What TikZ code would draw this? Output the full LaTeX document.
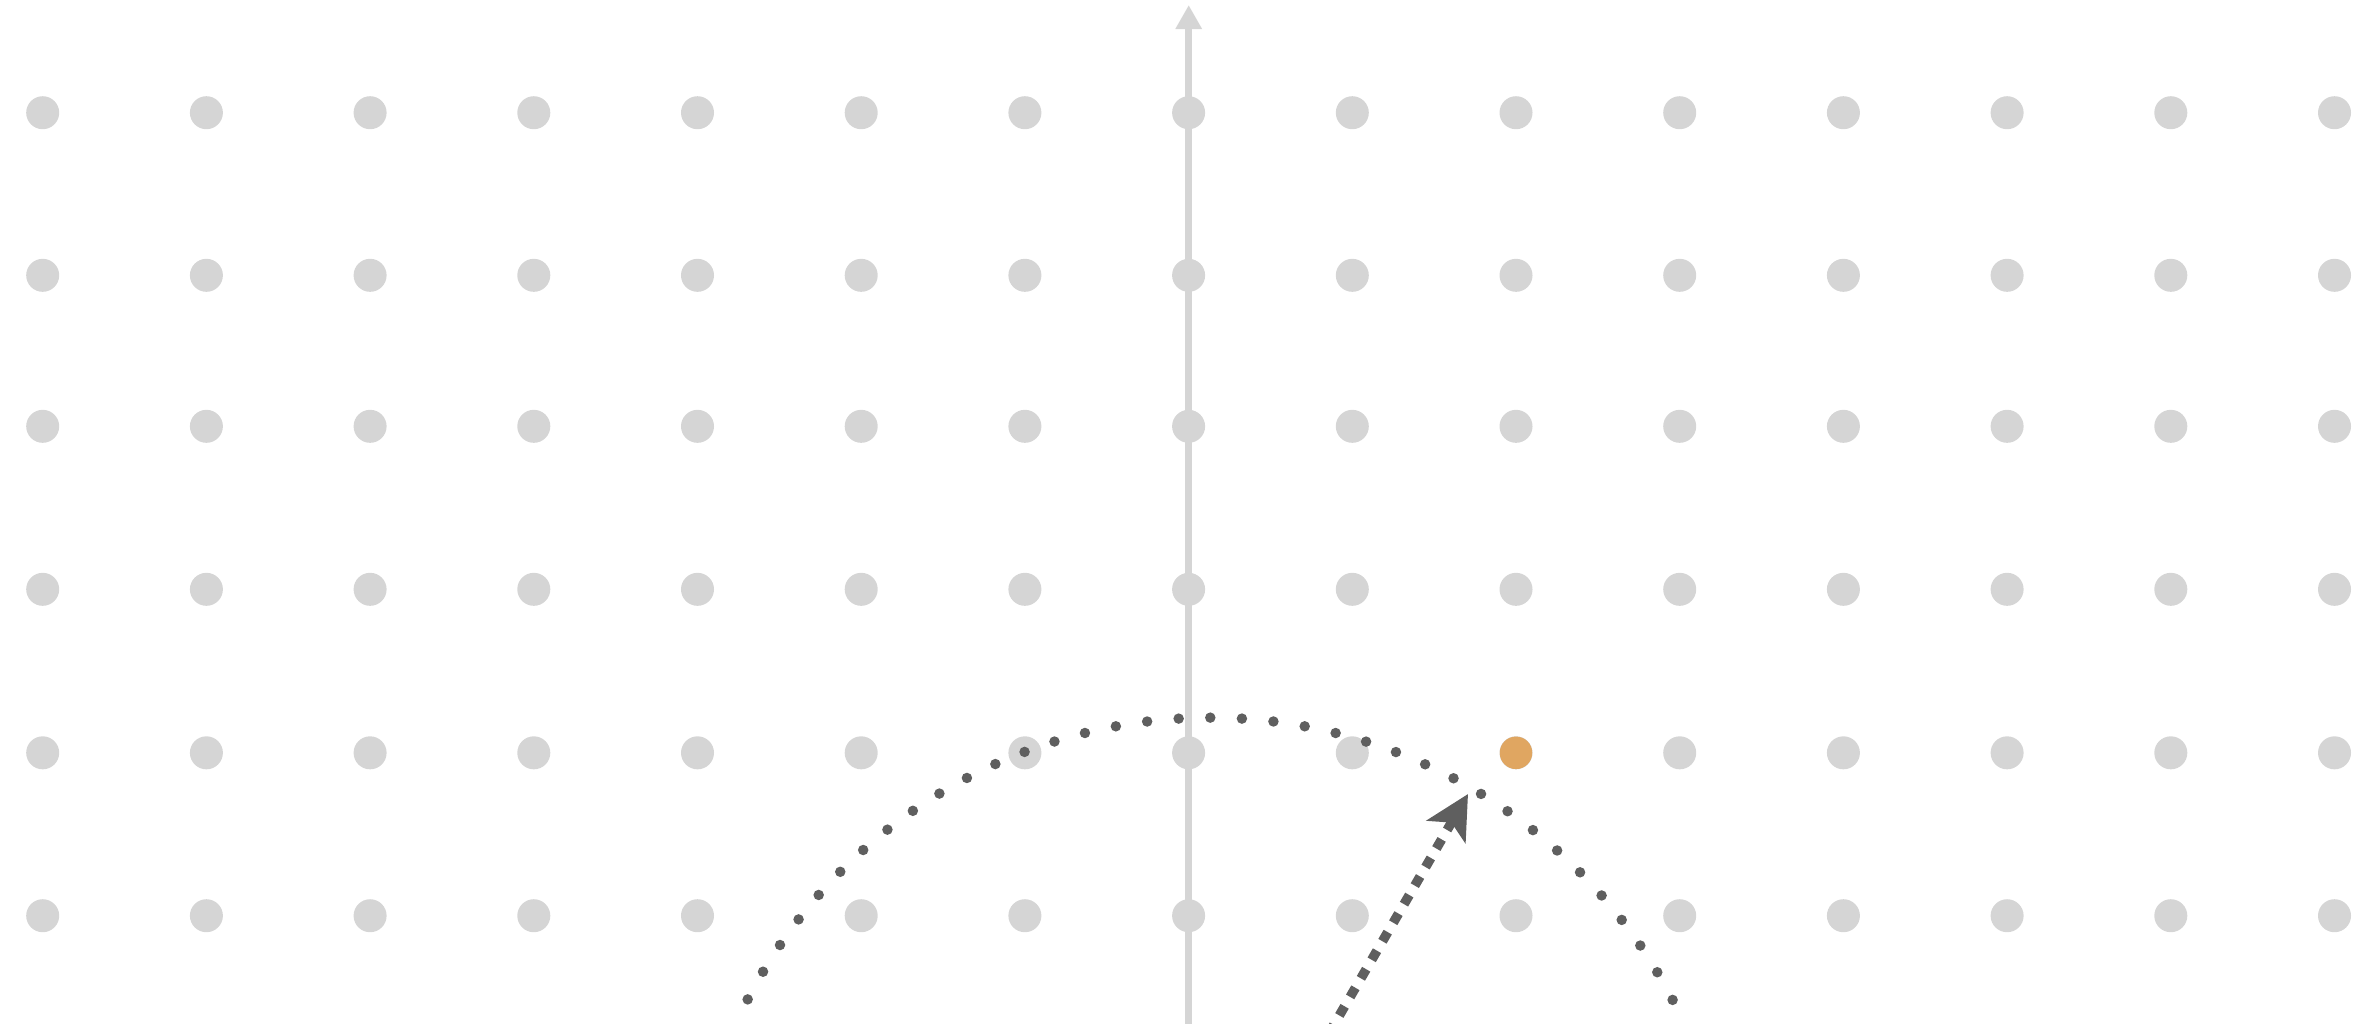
\documentclass[tikz,border=0pt]{standalone}
\usetikzlibrary{arrows.meta}

\definecolor{latticegray}{HTML}{D5D5D5}
\definecolor{pathgray}{HTML}{5F5F5F}
\definecolor{markorange}{HTML}{E0A661}

\begin{document}
\begin{tikzpicture}[
    x=0.01cm,
    y=-0.01cm,
    latticept/.style={
        circle,
        fill=latticegray,
        inner sep=0pt,
        minimum size=0.33cm
    },
    markpt/.style={
        circle,
        fill=markorange,
        inner sep=0pt,
        minimum size=0.325cm
    },
    yaxisline/.style={
        draw=latticegray,
        line width=0.073cm,
        -{Triangle[length=0.24cm, width=0.25cm]}
    },
    dottedorbit/.style={
        draw=pathgray,
        line width=0.105cm,
        line cap=round,
        dash pattern=on 0pt off 9pt
    },
    radialarrow/.style={
        draw=pathgray,
        line width=0.095cm,
        dash pattern=on 3pt off 3.1pt,
        -{Stealth[length=0.435cm, width=0.444cm, inset=0.105cm]}
    }
]

    % --- Frame ---
    \useasboundingbox (0,0) rectangle (2363,1023);
    \clip (0,0) rectangle (2363,1023);

    % --- Lattice ---
    \foreach \y [count=\r] in {112.7,275.3,426.3,589.3,752.8,915.7}
        \foreach \c in {0,...,14}
            \node [latticept] (p-\c-\r) at ({42.7+163.7*\c},\y) {};

    % --- Vertical axis ---
    \coordinate (axisbot) at (1188.7,1040);
    \coordinate (axistop) at (1188.7,5);
    \path [yaxisline] (axisbot) -- (axistop);

    % --- Orbit around the centre (below the frame) ---
    \coordinate (centre) at (1210,1238);
    \path [dottedorbit] (centre) ++(152.7:5.2cm)
        arc [start angle=152.7, end angle=27.0, radius=5.2cm];

    % --- Marked lattice point ---
    \node [markpt] (target) at (p-9-5) {};

    % --- Radius vector ---
    \coordinate (tip) at (1468,794);
    \path [radialarrow] (centre) -- (tip);

\end{tikzpicture}
\end{document}
